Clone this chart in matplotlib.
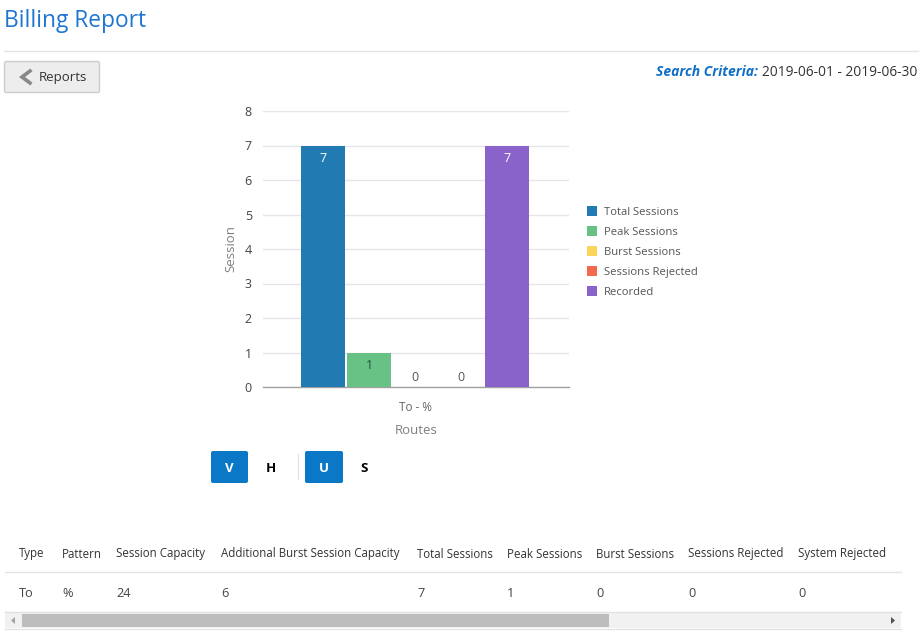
import matplotlib
matplotlib.use("Agg")
import matplotlib.pyplot as plt
from matplotlib.patches import Rectangle, FancyBboxPatch, Polygon

plt.rcParams['font.family'] = ['Open Sans', 'DejaVu Sans']

# ---- data ----
route_label = "To - %"
series_names = ["Total Sessions", "Peak Sessions", "Burst Sessions", "Sessions Rejected", "Recorded"]
series_values = [7, 1, 0, 0, 7]
series_colors = ["#227AB3", "#69C285", "#FBD45C", "#F2694B", "#8963C9"]
y_ticks = [0, 1, 2, 3, 4, 5, 6, 7, 8]
table_headers = ["Type", "Pattern", "Session Capacity", "Additional Burst Session Capacity",
                 "Total Sessions", "Peak Sessions", "Burst Sessions", "Sessions Rejected", "System Rejected"]
table_row = ["To", "%", "24", "6", "7", "1", "0", "0", "0"]
table_x = [19, 62, 116, 221, 417, 507, 596, 688, 798]

W, H = 923, 640
fig = plt.figure(figsize=(W / 100, H / 100), dpi=100, facecolor="white")

# page overlay in pixel coordinates
page = fig.add_axes([0, 0, 1, 1], zorder=0)
page.set_xlim(0, W)
page.set_ylim(H, 0)
page.axis("off")

# chart axes
L, R, T, B = 263, 569, 111, 387
ax = fig.add_axes([L / W, 1 - B / H, (R - L) / W, (B - T) / H], zorder=1)
ax.patch.set_alpha(0)
step = 46
ax.set_xlim((L - 415.1) / step, (R - 415.1) / step)
ax.set_ylim(0, 8)
for s in ["top", "right", "left"]:
    ax.spines[s].set_visible(False)
ax.spines["bottom"].set_color("#A0A0A0")
ax.spines["bottom"].set_linewidth(1.0)
ax.set_yticks(y_ticks)
ax.tick_params(axis="y", length=0, pad=8, labelsize=9, labelcolor="#444444")
ax.set_xticks([0])
ax.set_xticklabels([route_label], fontsize=8.5, color="#666666")
ax.tick_params(axis="x", length=0, pad=10)
ax.grid(axis="y", color="#E6E6EA", linewidth=1)
ax.set_axisbelow(True)
ax.set_xlabel("Routes", fontsize=9.5, color="#808080", labelpad=7.5)
ax.set_ylabel("Session", fontsize=9.5, color="#808080", labelpad=5.5)

for i, (name, v, c) in enumerate(zip(series_names, series_values, series_colors)):
    x = i - 2
    ax.bar(x, v, width=0.97, color=c, label=name, zorder=3)
    if v >= 1:
        ax.annotate(str(v), (x, v), xytext=(0, -4.5), textcoords="offset points", ha="center", va="top",
                    fontsize=9, color="white" if v > 1 else "#20553A", zorder=4)
    else:
        ax.annotate(str(v), (x, v), xytext=(0, 2), textcoords="offset points", ha="center", va="bottom",
                    fontsize=9, color="#555555", zorder=4)

# legend
for i, (name, c) in enumerate(zip(series_names, series_colors)):
    y = 210.5 + i * 20
    page.add_patch(Rectangle((587, y - 5), 10, 10, color=c, lw=0))
    page.text(604, y + 4.5, name, fontsize=8.1, color="#555555", va="baseline", ha="left")

# header
page.text(4, 21, "Billing Report", fontsize=16.4, color="#1F76D2", va="center", ha="left")
page.plot([4, 918], [50.5, 50.5], color="#E4E4E4", lw=1)

# Reports button
page.add_patch(FancyBboxPatch((4.5, 61.5), 95, 31, boxstyle="round,pad=0,rounding_size=2",
                              fc="#EDEDED", ec="#CCCCCC", lw=1))
page.plot([30, 22, 30], [71, 77, 83], color="#888888", lw=2.6, solid_joinstyle="miter")
page.text(39, 77.5, "Reports", fontsize=9.5, color="#333333", va="center", ha="left")

# search criteria
page.text(917.5, 72.5, "2019-06-01 - 2019-06-30", fontsize=9.95, color="#333333", va="center", ha="right")
page.text(758, 72.5, "Search Criteria:", fontsize=10, color="#0F6FC6", va="center", ha="right",
          fontweight="bold", fontstyle="italic")

# toggle buttons
for x0, w, lab in [(211, 37, "V"), (305, 38, "U")]:
    page.add_patch(FancyBboxPatch((x0, 451), w, 32, boxstyle="round,pad=0,rounding_size=2",
                                  fc="#0A78C6", ec="none"))
    page.text(x0 + w / 2, 468, lab, fontsize=9.5, color="white", fontweight="bold", ha="center", va="center")
page.text(271, 468, "H", fontsize=9.5, color="black", fontweight="bold", ha="center", va="center")
page.text(364, 468, "S", fontsize=9.5, color="black", fontweight="bold", ha="center", va="center")
page.plot([297.5, 297.5], [454, 479], color="#E4E4E4", lw=1)

# table
for x, h, r in zip(table_x, table_headers, table_row):
    page.text(x, 557.5, h, fontsize=8.3, color="#333333", va="baseline", ha="left", fontweight=500)
    page.text(x, 597, r, fontsize=9.2, color="#444444", va="baseline", ha="left")
page.plot([5, 901], [571.5, 571.5], color="#E4E4E4", lw=1)

# scrollbar
page.add_patch(Rectangle((5, 612), 896, 16, fc="#F1F1F1", ec="none"))
page.plot([5, 901], [611.5, 611.5], color="#E2E2E2", lw=1)
page.plot([5, 901], [628.5, 628.5], color="#E2E2E2", lw=1)
page.add_patch(Rectangle((22, 614), 587, 13, fc="#BDBDBD", ec="none"))
page.add_patch(Polygon([[15, 617], [11, 620.5], [15, 624]], fc="#A3A3A3", ec="none"))
page.add_patch(Polygon([[891, 617], [895, 620.5], [891, 624]], fc="#505050", ec="none"))

fig.savefig("out.png", dpi=100, facecolor="white")
